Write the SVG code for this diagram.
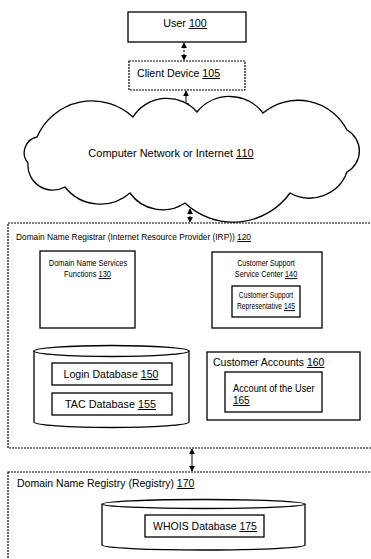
<svg xmlns="http://www.w3.org/2000/svg" width="371" height="559" viewBox="0 0 371 559">
<defs>
<style>
text{font-family:"Liberation Sans",Arial,sans-serif;font-size:10px;fill:#000}
.s{font-size:9.6px}
.c{text-anchor:middle}
.u{text-decoration:underline}
.box{fill:#fff;stroke:#000;stroke-width:1.3}
.dbox{fill:#fff;stroke:#000;stroke-width:1.2;stroke-dasharray:2,1}
.ln{fill:none;stroke:#000;stroke-width:1}
.dl{fill:none;stroke:#000;stroke-width:1;stroke-dasharray:2,1.5}
</style>
<marker id="ah" viewBox="0 0 8 8" refX="7" refY="4" markerWidth="6" markerHeight="6" orient="auto-start-reverse" markerUnits="userSpaceOnUse">
<path d="M0,0 L8,4 L0,8 z" fill="#000"/>
</marker>
</defs>
<rect width="371" height="559" fill="#fff"/>
<g id="connectors">
<line class="dl" x1="184" y1="43" x2="184" y2="60" marker-start="url(#ah)" marker-end="url(#ah)"/>
<line class="ln" x1="186" y1="91" x2="186" y2="108" marker-start="url(#ah)" marker-end="url(#ah)"/>
<line class="dl" x1="190" y1="209" x2="190" y2="222" marker-start="url(#ah)" marker-end="url(#ah)"/>
<line class="ln" x1="192" y1="449" x2="192" y2="471" marker-start="url(#ah)" marker-end="url(#ah)"/>
</g>
<g id="user100">
<rect class="box" x="128" y="12" width="118" height="30"/>
<text class="c" transform="translate(185,27) scale(1.08,1)">User <tspan class="u">100</tspan></text>
</g>
<g id="client105">
<rect class="dbox" x="129" y="61" width="116" height="29"/>
<text transform="translate(137,77) scale(1.06,1)">Client Device <tspan class="u">105</tspan></text>
</g>
<g id="cloud110">
<path class="box" d="M37,137 A60,60 0 0 1 133,117 A40,40 0 0 1 197,112 A42,42 0 0 1 263,113 A55,55 0 0 1 347,130 A24,24 0 0 1 347,172 A40,40 0 0 1 290,193 A70,70 0 0 1 185,203 A40,40 0 0 1 130,193 A45,45 0 0 1 65,187 A25,25 0 0 1 28,163 A16,16 0 0 1 37,137 Z"/>
<text class="c" transform="translate(171,157) scale(1.1,1)">Computer Network or Internet <tspan class="u">110</tspan></text>
</g>
<g id="registrar120">
<rect class="dbox" x="8" y="223" width="372" height="225"/>
<text class="s" transform="translate(16,240) scale(0.87,1)">Domain Name Registrar (Internet Resource Provider (IRP)) <tspan class="u">120</tspan></text>
</g>
<g id="dns130">
<rect class="box" x="40" y="251" width="95" height="77"/>
<text class="s c" transform="translate(88,266) scale(0.78,1)">Domain Name Services</text>
<text class="s c" transform="translate(87.5,277) scale(0.78,1)">Functions <tspan class="u">130</tspan></text>
</g>
<g id="cssc140">
<rect class="box" x="212" y="252" width="110" height="76"/>
<text class="s c" transform="translate(266,266) scale(0.74,1)">Customer Support</text>
<text class="s c" transform="translate(266,277) scale(0.76,1)">Service Center <tspan class="u">140</tspan></text>
</g>
<g id="csr145">
<rect class="box" x="232" y="286" width="68" height="31"/>
<text class="s c" transform="translate(266,298) scale(0.7,1)">Customer Support</text>
<text class="s c" transform="translate(266,309) scale(0.7,1)">Representative <tspan class="u">145</tspan></text>
</g>
<g id="db">
<path class="box" d="M34,351 L34,422 A77.5,5.5 0 0 0 189,422 L189,351"/>
<ellipse class="box" cx="111.5" cy="351" rx="77.5" ry="5.5"/>
</g>
<g id="login150">
<rect class="box" x="52" y="363" width="120" height="22"/>
<text class="c" transform="translate(111,378) scale(1.06,1)">Login Database <tspan class="u">150</tspan></text>
</g>
<g id="tac155">
<rect class="box" x="52" y="393" width="120" height="22"/>
<text class="c" transform="translate(110.5,408) scale(1.08,1)">TAC Database <tspan class="u">155</tspan></text>
</g>
<g id="accounts160">
<rect class="box" x="207" y="352" width="153" height="68"/>
<text transform="translate(213,366) scale(1.05,1)">Customer Accounts <tspan class="u">160</tspan></text>
</g>
<g id="account165">
<rect class="box" x="225" y="372" width="97" height="40"/>
<text transform="translate(233,392) scale(0.93,1)">Account of the User</text>
<text x="233" y="404"><tspan class="u">165</tspan></text>
</g>
<g id="registry170">
<rect class="dbox" x="8" y="472" width="372" height="100"/>
<text transform="translate(17,487) scale(1.05,1)">Domain Name Registry (Registry) <tspan class="u">170</tspan></text>
</g>
<g id="whoisdb">
<path class="box" d="M102,504 L102,545 A101.5,5 0 0 0 305,545 L305,504"/>
<ellipse class="box" cx="203.5" cy="504" rx="101.5" ry="4.5"/>
</g>
<g id="whois175">
<rect class="box" x="145" y="515" width="119" height="22"/>
<text class="c" transform="translate(205,530) scale(1.05,1)">WHOIS Database <tspan class="u">175</tspan></text>
</g>
</svg>
